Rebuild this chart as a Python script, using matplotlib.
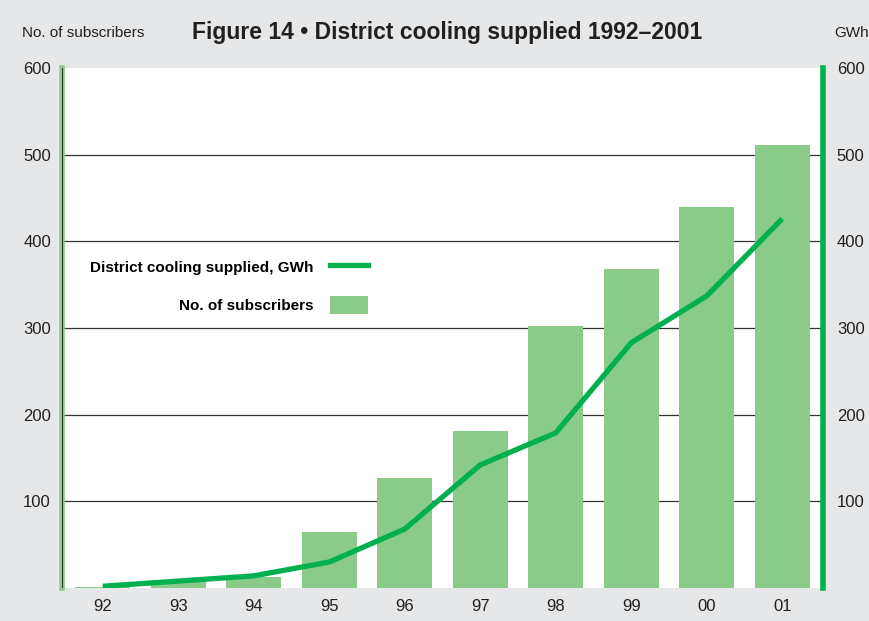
import matplotlib
matplotlib.use("Agg")
import matplotlib.pyplot as plt
from matplotlib.lines import Line2D
from matplotlib.patches import Patch

years = ["92", "93", "94", "95", "96", "97", "98", "99", "00", "01"]
subscribers = [1, 7, 13, 65, 127, 181, 302, 368, 440, 511]
cooling_gwh = [2, 8, 14, 30, 68, 142, 179, 283, 337, 426]
yticks = [100, 200, 300, 400, 500, 600]

plt.rcParams["font.family"] = ["Liberation Sans", "DejaVu Sans"]

BG = "#e6e7e8"
BAR = "#8bcb8a"
LINE = "#00b04f"
TXT = "#231f20"

fig = plt.figure(figsize=(8.69, 6.21), dpi=100, facecolor=BG)
ax = fig.add_axes([62/869, 1-588/621, (823-62)/869, (588-68)/621])
ax.set_facecolor("white")

x = list(range(len(years)))
ax.bar(x, subscribers, width=0.73, color=BAR, zorder=2)
ax.plot(x, cooling_gwh, color=LINE, lw=3.8, zorder=3, solid_capstyle="butt")

ax.set_xlim(-0.54, 9.54)
ax.set_ylim(0, 600)
for v in yticks[:-1]:
    ax.axhline(v, color="#333333", lw=0.9, zorder=1)

ax.set_xticks(x)
ax.set_xticklabels(years)
ax.set_yticks(yticks)
ax.tick_params(axis="x", length=0, labelsize=12, pad=8, colors=TXT)
ax.tick_params(axis="y", length=0, labelsize=12, pad=8, colors=TXT)

ax2 = ax.twinx()
ax2.set_ylim(0, 600)
ax2.set_yticks(yticks)
ax2.tick_params(axis="y", length=0, labelsize=12, pad=10, colors=TXT)

for a in (ax, ax2):
    for s in ("top", "bottom"):
        a.spines[s].set_visible(False)
ax2.spines["left"].set_visible(False)
ax.spines["right"].set_visible(False)
ax.spines["left"].set_color(BAR)
ax.spines["left"].set_linewidth(4)
ax.axvline(-0.54, color="#333333", lw=0.8, zorder=4)
ax2.spines["right"].set_color(LINE)
ax2.spines["right"].set_linewidth(4)

handles = [Line2D([0], [0], color=LINE, lw=3.8),
           Patch(facecolor=BAR, edgecolor="none")]
leg = ax.legend(handles, ["District cooling supplied, GWh", "No. of subscribers"],
                loc="center right", bbox_to_anchor=(376/869, 1-286/621),
                bbox_transform=fig.transFigure, markerfirst=False,
                frameon=False, handlelength=2.5, handleheight=1.45, borderpad=0,
                handletextpad=1.1, labelspacing=1.3,
                prop={"weight": "bold", "size": 11})
for t in leg.get_texts():
    t.set_ha("right")

fig.text(22/869, 1-33/621, "No. of subscribers", fontsize=11, va="center", ha="left", color=TXT)
fig.text(447/869, 1-33/621, "Figure 14 \u2022 District cooling supplied 1992\u20132001",
         fontsize=16.5, fontweight="bold", va="center", ha="center", color=TXT)
fig.text(834/869, 1-33/621, "GWh", fontsize=11, va="center", ha="left", color=TXT)

fig.savefig("out.png", dpi=100, facecolor=BG)
